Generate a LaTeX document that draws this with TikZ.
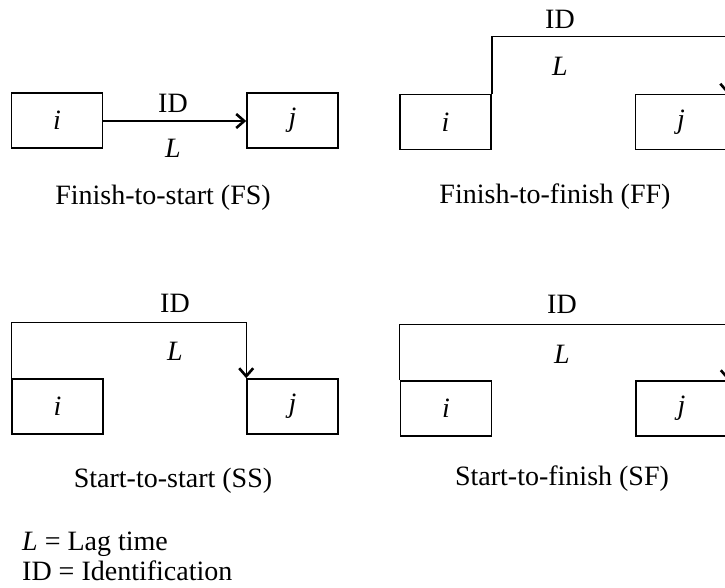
\documentclass[tikz,border=0pt]{standalone}
\usepackage{fontspec}
\setmainfont{Liberation Serif}
\usetikzlibrary{arrows.meta}

\tikzset{
  actbox/.style={draw, line width=1.6pt, minimum width=91pt, minimum height=55pt,
                 inner sep=0pt, font=\fontsize{28}{30}\selectfont\itshape},
  conn/.style={line width=1.4pt},
  link/.style={conn, -{Straight Barb[length=8pt,width=14pt,line width=2.6pt]}},
  lbl/.style={anchor=base, inner sep=0pt, font=\fontsize{28}{30}\selectfont},
  legend/.style={anchor=base west, inner sep=0pt, font=\fontsize{28}{30}\selectfont}
}

\begin{document}
\begin{tikzpicture}[x=1pt, y=-1pt]
  \fill[white, use as bounding box] (0,0) rectangle (725,587);
  \clip (0,0) rectangle (725,587);

  % Finish-to-start
  \node[actbox] (fsi) at (57,120.5) {i};
  \node[actbox] (fsj) at (292.5,120.5) {j};
  \draw[link] (fsi.east |- 0,121) -- (fsj.west |- 0,121);
  \node[lbl] (fsid) at (173,112) {ID};
  \node[lbl] (fsl) at (173,157) {\textit{L}};
  \node[lbl] (fscap) at (163,204) {Finish-to-start (FS)};

  % Finish-to-finish
  \node[actbox] (ffi) at (445.5,122) {i};
  \node[actbox] (ffj) at (681,122) {j};
  \draw[link] (ffi.north east) -- ++(0,-57) -| (ffj.north east);
  \node[lbl] (ffid) at (560,28) {ID};
  \node[lbl] (ffl) at (560,75) {\textit{L}};
  \node[lbl] (ffcap) at (555,203) {Finish-to-finish (FF)};

  % Start-to-start
  \node[actbox] (ssi) at (57.5,406.5) {i};
  \node[actbox] (ssj) at (292.5,406.5) {j};
  \draw[link] (ssi.north west) -- ++(0,-56) -| (ssj.north west);
  \node[lbl] (ssid) at (175,312) {ID};
  \node[lbl] (ssl) at (175,360) {\textit{L}};
  \node[lbl] (sscap) at (173,487) {Start-to-start (SS)};

  % Start-to-finish
  \node[actbox] (sfi) at (446,408.5) {i};
  \node[actbox] (sfj) at (681.5,408.5) {j};
  \draw[link] (sfi.north west) -- ++(0,-56) -| (sfj.north east);
  \node[lbl] (sfid) at (562,313) {ID};
  \node[lbl] (sfl) at (562,363) {\textit{L}};
  \node[lbl] (sfcap) at (562,485) {Start-to-finish (SF)};

  % Legend
  \node[legend] (leg1) at (22,550) {\textit{L} = Lag time};
  \node[legend] (leg2) at (22,580) {ID = Identification};
\end{tikzpicture}
\end{document}
